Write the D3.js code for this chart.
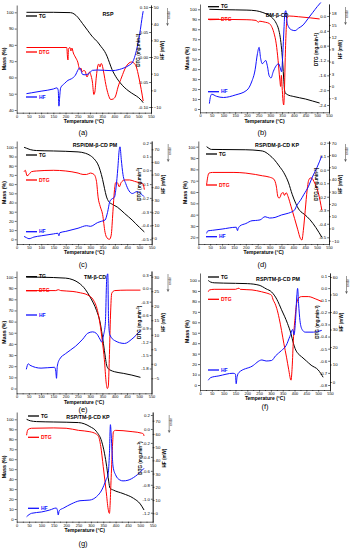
<!DOCTYPE html>
<html>
<head>
<meta charset="utf-8">
<script src="https://cdnjs.cloudflare.com/ajax/libs/d3/7.8.4/d3.min.js"></script>
<style>
body { margin: 0; background: #fff; }
svg text { font-family: "Liberation Sans", Arial, sans-serif; }
</style>
</head>
<body>
<div id="svg-container"></div>
<script>
// ---- data: [temperature (°C), value] ----
// (a) RSP
const tgA = [[40,100],[150,100],[220,99.8],[235,99],[250,97],[270,93],[290,89],[310,85],[330,82],[345,79],[360,76],[370,73],[380,69],[390,65],[400,62],[410,59.5],[425,56.5],[440,54],[460,51.5],[480,49.5],[500,47.5],[510,46],[518,44.5]];
const dtgA = [[40,0.019],[205,0.019],[208,0.0],[210,-0.006],[212,0.016],[218,0.019],[222,0.012],[226,0.018],[232,0.008],[240,0.0],[250,-0.01],[258,-0.025],[263,-0.022],[268,-0.03],[274,-0.027],[280,-0.028],[288,-0.04],[293,-0.035],[298,-0.03],[303,-0.035],[310,-0.05],[316,-0.075],[320,-0.07],[326,-0.04],[332,-0.018],[336,-0.014],[341,-0.02],[346,-0.013],[350,-0.016],[356,-0.03],[365,-0.055],[375,-0.075],[385,-0.085],[395,-0.084],[405,-0.078],[415,-0.06],[430,-0.04],[445,-0.022],[460,-0.012],[470,-0.01],[480,-0.012],[490,-0.02],[500,-0.04],[510,-0.065],[518,-0.088]];
const hfA = [[40,-2],[60,-1.5],[100,-0.5],[150,0.8],[165,1.5],[170,0],[173,-9.5],[176,-4],[180,1.5],[195,4],[210,6],[225,7],[240,9],[252,12.5],[258,13.5],[263,12],[270,9.5],[280,9.3],[295,10],[310,12],[330,12.2],[360,12],[390,11.8],[420,12.5],[440,13.5],[460,15],[475,17],[485,21],[495,27],[503,33],[510,40],[515,45],[518,47.5]];
// (b) DM-β-CD
const tgB = [[40,100],[100,99.6],[200,99.2],[240,98.5],[265,97],[290,94.5],[310,91],[325,86],[335,80],[342,72],[348,60],[353,45],[357,30],[360,20],[364,16],[372,14.5],[400,12.5],[450,10],[480,8],[510,6]];
const dtgB = [[40,-0.1],[100,-0.09],[200,-0.1],[240,-0.12],[248,-0.17],[255,-0.14],[265,-0.15],[280,-0.17],[295,-0.2],[305,-0.28],[315,-0.45],[325,-0.75],[333,-1.2],[340,-1.7],[344,-1.9],[347,-1.6],[350,-1.9],[354,-2.3],[357,-2.4],[360,-2.0],[364,-1.0],[368,-0.3],[372,-0.05],[380,0.0],[420,-0.02],[470,-0.05],[510,-0.08]];
const hfB = [[40,-4.3],[45,-2.5],[50,-2],[70,-2.5],[100,-2.8],[150,-2.2],[200,-1],[220,1],[235,4],[245,8],[252,9.5],[258,7],[265,5.5],[272,5.8],[280,6.3],[287,5],[295,2.5],[303,2],[312,3.5],[325,5],[335,5.5],[342,4.5],[348,3.5],[353,8],[358,14],[362,18],[366,18.5],[370,16],[378,14.5],[390,13.8],[405,13.6],[420,14.2],[440,15],[460,16.5],[480,18],[500,19.5],[515,20.5]];
// (c) RSP/DM-β-CD PM
const tgC = [[30,100],[40,99],[55,97.5],[80,96.5],[150,96],[250,95],[280,93.5],[300,91],[320,86],[330,82],[340,75],[350,65],[358,55],[365,47],[375,41],[390,38],[410,35],[440,28],[470,21],[500,13],[520,8]];
const dtgC = [[30,-0.01],[35,0.0],[42,-0.04],[50,-0.03],[60,-0.01],[80,-0.005],[150,0.0],[200,-0.005],[250,-0.02],[270,-0.03],[285,-0.03],[300,-0.02],[315,-0.03],[325,-0.08],[332,-0.2],[340,-0.26],[350,-0.32],[360,-0.45],[368,-0.49],[378,-0.5],[385,-0.47],[392,-0.3],[398,-0.15],[403,-0.09],[410,-0.09],[418,-0.12],[425,-0.09],[440,-0.07],[460,-0.07],[480,-0.08],[500,-0.09],[515,-0.1],[520,-0.14]];
const hfC = [[30,1],[40,0],[50,-0.8],[70,0.5],[100,1.5],[150,3],[168,3.5],[172,1.5],[176,4],[200,5],[250,7.5],[285,9.5],[300,9],[330,12],[345,13],[360,14],[370,20],[380,29],[390,31],[398,32],[405,40],[412,55],[418,70],[421,72],[426,62],[433,50],[444,43],[458,37],[471,35],[490,36.5],[505,35],[519,32.5]];
// (d) RSP/DM-β-CD KP
const tgD = [[35,100],[45,98.5],[55,97.6],[100,97.5],[200,97.3],[260,96.5],[280,95.5],[300,92.5],[320,88.5],[340,83],[360,77],[380,68],[395,58],[410,50],[422,45],[432,42.5],[445,40.5],[470,35.5],[495,28.5],[520,20]];
const dtgD = [[35,-0.11],[40,-0.05],[45,-0.025],[60,-0.02],[150,-0.02],[200,-0.025],[240,-0.035],[270,-0.045],[300,-0.055],[318,-0.07],[328,-0.12],[335,-0.2],[340,-0.21],[345,-0.2],[350,-0.175],[358,-0.17],[362,-0.19],[370,-0.17],[378,-0.2],[390,-0.27],[405,-0.36],[418,-0.44],[430,-0.51],[436,-0.52],[442,-0.45],[450,-0.3],[458,-0.15],[466,-0.07],[475,-0.06],[490,-0.1],[505,-0.17],[520,-0.3]];
const hfD = [[35,-4],[40,-2],[60,-1.5],[100,-0.5],[160,1],[165,-1.8],[168,0],[175,2],[200,4],[226,6.3],[240,6.5],[260,7],[281,9.6],[300,8.5],[323,9],[350,11],[380,12.5],[395,13.7],[405,15],[415,19],[430,23],[445,28],[463,34],[480,42],[500,50],[519,59]];
// (e) TM-β-CD
const tgE = [[40,100],[100,99.8],[200,99],[230,97.5],[255,94.5],[280,89],[300,82],[326,70],[340,60],[354,40.5],[362,28],[367,21],[375,17.5],[381,16.6],[400,15],[435,13.6],[470,12],[505,10]];
const dtgE = [[40,-0.05],[100,-0.05],[160,-0.05],[170,-0.03],[180,-0.05],[230,-0.07],[260,-0.1],[290,-0.15],[313,-0.26],[330,-0.5],[340,-0.79],[350,-1.2],[358,-1.6],[365,-2.1],[370,-2.25],[374,-2.2],[378,-1.6],[383,-0.6],[388,-0.11],[400,-0.05],[450,-0.04],[505,-0.04]];
const hfE = [[40,-1.9],[48,0],[55,-0.5],[100,-1.5],[155,-1.2],[160,-2.5],[163,-5],[166,-1],[175,1.5],[200,3.5],[240,6],[270,8.5],[290,10.5],[310,11],[325,10.5],[340,8.5],[347,7.5],[355,10],[362,14],[368,30],[372,31],[375,15],[380,10],[400,8],[440,7],[470,8.5],[505,11.5]];
// (f) RSP/TM-β-CD PM
const tgF = [[35,100],[45,98.5],[60,97.8],[100,97.5],[200,97],[250,95.5],[280,92],[303,89],[325,82],[345,72],[370,59],[385,49],[395,40],[405,33.5],[415,30],[430,27],[450,23],[470,19],[500,14.4],[521,7.4]];
const dtgF = [[35,-0.03],[40,-0.015],[60,-0.01],[150,-0.01],[165,0.0],[170,-0.01],[220,-0.015],[260,-0.03],[280,-0.04],[295,-0.05],[303,-0.06],[310,-0.1],[317,-0.126],[325,-0.17],[335,-0.25],[345,-0.35],[355,-0.46],[366,-0.57],[375,-0.67],[385,-0.76],[390,-0.65],[395,-0.43],[402,-0.25],[409,-0.126],[418,-0.08],[430,-0.07],[458,-0.07],[490,-0.09],[515,-0.11]];
const hfF = [[35,1],[45,2.5],[80,3.5],[140,5],[150,4.5],[153,-1],[157,3],[165,5.5],[220,9],[262,12.6],[280,12],[303,12.3],[320,15],[345,18],[365,21],[380,26],[392,30],[398,27],[404,35],[410,50],[413,53.5],[417,45],[423,35],[432,30],[445,28.5],[480,28.5],[515,29.5]];
// (g) RSP/TM-β-CD KP
const tgG = [[40,100],[55,98.5],[80,97.7],[150,97.3],[250,96.7],[296,92.7],[323,87.6],[344,77.5],[355,66],[364,52.5],[372,38],[377,31],[391,29],[430,25.5],[472,20.8],[500,15],[515,9]];
const dtgG = [[40,-0.09],[45,-0.01],[60,0.01],[150,0.015],[200,0.01],[250,-0.02],[296,-0.04],[320,-0.07],[330,-0.1],[340,-0.25],[350,-0.54],[362,-0.9],[370,-1.15],[375,-1.21],[382,-0.7],[388,-0.2],[391,-0.04],[400,-0.02],[430,-0.025],[470,-0.04],[505,-0.06],[512,-0.07],[515,-0.1]];
const hfG = [[40,-2.6],[50,-1],[60,0],[100,1],[134,2.5],[160,4],[165,2],[168,-1.3],[172,2],[190,4],[220,7],[256,9.5],[296,10],[323,12.6],[344,17.6],[361,25.2],[370,30],[375,45],[379,67],[382,60],[386,45],[390,35],[400,29],[417,25.2],[430,24.5],[450,25],[480,28],[515,34]];

// ---- tick labels ----
const tempTicks = d3.range(0, 551, 50);
const massTicksA = [40,50,60,70,80,90,100];
const massTicks0 = [0,10,20,30,40,50,60,70,80,90,100];
const massTicksD = [20,30,40,50,60,70,80,90,100];
const dtgTicksA = [-0.10,-0.05,0.00,0.05,0.10];
const dtgTicksB = [-2.4,-2.0,-1.6,-1.2,-0.8,-0.4,0.0];
const dtgTicksCD = [-0.5,-0.4,-0.3,-0.2,-0.1,0.0,0.1,0.2];
const dtgTicksE = [-1.8,-1.5,-1.2,-0.9,-0.6,-0.3,0.0,0.3];
const dtgTicksF = [-0.8,-0.7,-0.6,-0.5,-0.4,-0.3,-0.2,-0.1,0.0,0.1];
const dtgTicksG = [-1.2,-1.0,-0.8,-0.6,-0.4,-0.2,0.0,0.2];
const hfTicksA = [-10,0,10,20,30,40,50];
const hfTicksB = [-3,0,3,6,9,12,15,18];
const hfTicksC = [0,10,20,30,40,50,60,70];
const hfTicksD = [-10,0,10,20,30,40,50,60,70];
const hfTicksE = [-5,0,5,10,15,20,25,30];
const hfTicksF = [0,10,20,30,40,50,60];
const hfTicksG = [0,10,20,30,40,50,60,70];

// ---- panel layout (pixel anchors of two tick labels per axis) ----
const panels = [
  {label:"(a)", name:"RSP", tg:tgA, dtg:dtgA, hf:hfA, x0:16.7, x1:151, base:112.7, top:5,
   mass:[[100,12.3],[40,110]], mt:massTicksA, dPos:[[0.10,7],[-0.10,107]], dt:dtgTicksA, df:".2f",
   hPos:[[50,7],[-10,107]], ht:hfTicksA, title:[108,14], leg:[26,16,52,97], lab:[83,135]},
  {label:"(b)", name:"DM-β-CD", tg:tgB, dtg:dtgB, hf:hfB, x0:200, x1:329, base:112.3, top:4,
   mass:[[100,9.3],[0,109]], mt:massTicks0, dPos:[[0.0,16],[-2.4,105]], dt:dtgTicksB, df:".1f",
   hPos:[[18,12.7],[-3,98.3]], ht:hfTicksB, title:[277,15], leg:[208,6.7,19.3,91.7], lab:[262,135]},
  {label:"(c)", name:"RSP/DM-β-CD PM", tg:tgC, dtg:dtgC, hf:hfC, x0:16.7, x1:151.7, base:244, top:141,
   mass:[[100,147.3],[0,239.3]], mt:massTicks0, dPos:[[0.2,142.7],[-0.5,239.3]], dt:dtgTicksCD, df:".1f",
   hPos:[[70,149.3],[0,237.7]], ht:hfTicksC, title:[95,145], leg:[26,155,180,231.7], lab:[83,267]},
  {label:"(d)", name:"RSP/DM-β-CD KP", tg:tgD, dtg:dtgD, hf:hfD, x0:198.3, x1:329, base:244, top:141,
   mass:[[100,146.7],[20,237.3]], mt:massTicksD, dPos:[[0.2,142.7],[-0.5,237.3]], dt:dtgTicksCD, df:".1f",
   hPos:[[70,142.7],[-10,240.7]], ht:hfTicksD, title:[277,145], leg:[206,154,185,236.7], lab:[262,267]},
  {label:"(e)", name:"TM-β-CD", tg:tgE, dtg:dtgE, hf:hfE, x0:16.5, x1:151.5, base:393.3, top:271,
   mass:[[100,277],[0,388.5]], mt:massTicks0, dPos:[[0.3,275],[-1.8,368.5]], dt:dtgTicksE, df:".1f",
   hPos:[[30,276.7],[-5,378.3]], ht:hfTicksE, title:[95,277], leg:[26,276.7,290.7,315], lab:[83,411.5]},
  {label:"(f)", name:"RSP/TM-β-CD PM", tg:tgF, dtg:dtgF, hf:hfF, x0:200, x1:330, base:390, top:273,
   mass:[[100,280.5],[0,385]], mt:massTicks0, dPos:[[0.1,276],[-0.8,385]], dt:dtgTicksF, df:".1f",
   hPos:[[60,277],[0,382]], ht:hfTicksF, title:[278,279], leg:[208,277,299.3,370], lab:[265,409]},
  {label:"(g)", name:"RSP/TM-β-CD KP", tg:tgG, dtg:dtgG, hf:hfG, x0:16.7, x1:152.7, base:521.7, top:412,
   mass:[[100,419.3],[0,519]], mt:massTicks0, dPos:[[0.2,415],[-1.2,512.7]], dt:dtgTicksG, df:".1f",
   hPos:[[70,420.7],[0,513.3]], ht:hfTicksG, title:[88,416.5], leg:[28,416,437.3,508.3], lab:[83,546]}
];

const svg = d3.select("#svg-container").append("svg")
  .attr("width", 350).attr("height", 550);

const minusFix = f => v => d3.format(f)(v).replace("\u2212", "-");

function styleAxis(g, size) {
  g.attr("font-size", size || 4.3).attr("font-family", null);
  g.selectAll("path,line").attr("stroke", "#000").attr("stroke-width", 0.6);
  g.selectAll("text").attr("fill", "#000");
}

panels.forEach(p => {
  const g = svg.append("g");
  const x = d3.scaleLinear().domain([0, 550]).range([p.x0, p.x1]);
  const anchor = a => d3.scaleLinear().domain([a[0][0], a[1][0]]).range([a[0][1], a[1][1]]);
  const fit = s => d3.scaleLinear().domain([s.invert(p.base), s.invert(p.top)]).range([p.base, p.top]);
  const yM = fit(anchor(p.mass)), yD = fit(anchor(p.dPos)), yH = fit(anchor(p.hPos));

  // bottom axis
  g.append("g").attr("transform", `translate(0,${p.base})`)
    .call(d3.axisBottom(x).tickValues(tempTicks).tickSize(1.6).tickSizeOuter(0).tickPadding(0.6))
    .call(styleAxis, 3.9);
  g.append("g").attr("transform", `translate(0,${p.base})`)
    .call(d3.axisBottom(x).tickValues(tempTicks.slice(1).map(v => v - 25)).tickSize(1).tickFormat(""))
    .call(styleAxis).select(".domain").remove();

  // left mass axis
  g.append("g").attr("transform", `translate(${p.x0},0)`)
    .call(d3.axisLeft(yM).tickValues(p.mt).tickSize(2).tickSizeOuter(0).tickPadding(1))
    .call(styleAxis);

  // right axis: DTG labels inside, HF labels outside
  g.append("g").attr("transform", `translate(${p.x1},0)`)
    .call(d3.axisLeft(yD).tickValues(p.dt).tickFormat(minusFix(p.df)).tickSize(1.8).tickSizeOuter(0).tickPadding(1))
    .call(styleAxis);
  g.append("g").attr("transform", `translate(${p.x1},0)`)
    .call(d3.axisRight(yH).tickValues(p.ht).tickSize(1.8).tickSizeOuter(0).tickPadding(1))
    .call(styleAxis);

  // curves
  const series = [[p.tg, yM, "#000"], [p.dtg, yD, "#ff0000"], [p.hf, yH, "#1010ff"]];
  series.forEach(([data, y, c]) => {
    g.append("path").datum(data)
      .attr("fill", "none").attr("stroke", c).attr("stroke-width", 1)
      .attr("d", d3.line().x(d => x(d[0])).y(d => y(d[1])).curve(d3.curveMonotoneX));
  });

  // legend
  [["TG", "#000", p.leg[1]], ["DTG", "#ff0000", p.leg[2]], ["HF", "#1010ff", p.leg[3]]].forEach(([t, c, yy]) => {
    g.append("line").attr("x1", p.leg[0]).attr("x2", p.leg[0] + 11).attr("y1", yy).attr("y2", yy)
      .attr("stroke", c).attr("stroke-width", 1.3);
    g.append("text").attr("x", p.leg[0] + 13).attr("y", yy + 1.7).attr("font-size", 5)
      .attr("font-weight", "bold").attr("fill", c).text(t);
  });

  // titles
  g.append("text").attr("x", p.title[0]).attr("y", p.title[1] + 2).attr("text-anchor", "middle")
    .attr("font-size", 5.3).attr("font-weight", "bold").text(p.name);
  g.append("text").attr("x", (p.x0 + p.x1) / 2).attr("y", p.base + 10.3).attr("text-anchor", "middle")
    .attr("font-size", 5).attr("font-weight", "bold").text("Temperature (°C)");
  const midY = (p.top + p.base) / 2;
  g.append("text").attr("transform", `translate(${p.x0 - 11},${midY}) rotate(-90)`)
    .attr("text-anchor", "middle").attr("font-size", 5.3).attr("font-weight", "bold").text("Mass (%)");
  g.append("text").attr("transform", `translate(${p.x1 - 11},${p.top + (p.base - p.top) * 0.42}) rotate(-90)`)
    .attr("text-anchor", "middle").attr("font-size", 4.6).attr("font-weight", "bold")
    .html("DTG (mg.min<tspan dy='-1.5' font-size='3.2'>-1</tspan><tspan dy='1.5'>)</tspan>");
  g.append("text").attr("transform", `translate(${p.x1 + 13},${p.top + (p.base - p.top) * 0.42}) rotate(-90)`)
    .attr("text-anchor", "middle").attr("font-size", 4.6).attr("font-weight", "bold").text("HF (mW)");
  // endo marker
  g.append("text").attr("transform", `translate(${p.x1 + 19},${p.top + 10}) rotate(-90)`)
    .attr("text-anchor", "middle").attr("font-size", 3.6).text("endo");
  g.append("line").attr("x1", p.x1 + 16.5).attr("x2", p.x1 + 16.5).attr("y1", p.top + 3).attr("y2", p.top + 20)
    .attr("stroke", "#000").attr("stroke-width", 0.4);
  g.append("path").attr("d", `M${p.x1 + 15.5},${p.top + 18}L${p.x1 + 16.5},${p.top + 20.5}L${p.x1 + 17.5},${p.top + 18}`)
    .attr("fill", "none").attr("stroke", "#000").attr("stroke-width", 0.4);

  // panel label
  g.append("text").attr("x", p.lab[0]).attr("y", p.lab[1]).attr("text-anchor", "middle")
    .attr("font-family", "Liberation Serif, serif").attr("font-size", 7.5).text(p.label);
});
</script>
</body>
</html>
